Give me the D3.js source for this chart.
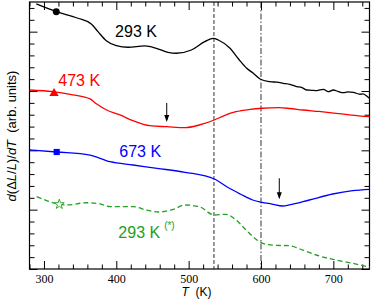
<!DOCTYPE html>
<html>
<head>
<meta charset="utf-8">
<script src="https://cdn.jsdelivr.net/npm/d3@7"></script>
<style>
  body { margin: 0; background: #fff; }
  svg { display: block; }
</style>
</head>
<body>
<div id="chart"></div>
<script>
// data: [T (K), d(dL/L)/dT in arb. units]
var curve293 = [[289.4,4.467],[317.0,4.337],[347.0,4.226],[365.4,4.129],[374.7,4.000],[386.2,3.848],
  [400.0,3.764],[416.2,3.737],[439.3,3.759],[455.3,3.720],[471.5,3.652],[482.9,3.636],[503.7,3.691],
  [522.2,3.831],[534.1,3.888],[541.0,3.860],[557.2,3.720],[569.0,3.540],[580.3,3.383],[589.4,3.298],
  [598.7,3.202],[612.5,3.157],[622.0,3.148],[630.9,3.130],[640.0,3.112],[649.4,3.073],[656.0,3.062],
  [663.2,3.017],[670.0,3.012],[677.0,3.005],[686.2,3.029],[693.1,2.988],[700.0,3.017],[706.0,2.995],
  [713.8,2.972],[720.0,2.985],[727.6,2.978],[736.9,2.945],[741.0,2.950],[746.1,2.916],[750.0,2.877]];
var curve473 = [[280.0,3.017],[312.5,2.988],[340.0,2.935],[363.6,2.866],[372.9,2.781],[386.7,2.680],
  [405.1,2.596],[423.1,2.500],[446.6,2.415],[470.1,2.398],[495.0,2.382],[514.7,2.427],[535.5,2.511],
  [550.0,2.590],[565.5,2.651],[585.0,2.690],[601.4,2.709],[624.9,2.719],[640.0,2.705],[657.7,2.680],
  [680.0,2.655],[703.7,2.624],[725.0,2.595],[750.0,2.567]];
var curve673 = [[280.0,2.006],[317.6,1.972],[363.6,1.921],[391.3,1.809],[423.1,1.753],[456.3,1.697],
  [495.0,1.630],[535.5,1.517],[556.2,1.360],[572.0,1.260],[588.6,1.163],[601.4,1.124],[615.0,1.095],
  [630.0,1.062],[639.1,1.079],[666.8,1.163],[699.1,1.264],[726.8,1.320],[750.0,1.343]];
var curve293b = [[290.0,1.219],[308.3,1.134],[321.2,1.090],[331.4,1.079],[359.1,1.117],[377.5,1.096],
  [391.3,1.050],[423.5,1.050],[442.0,0.994],[458.1,0.961],[478.8,1.006],[495.0,1.079],[514.7,1.050],
  [535.5,0.910],[551.6,0.922],[565.5,0.826],[579.3,0.657],[593.1,0.501],[606.9,0.416],[620.8,0.399],
  [639.1,0.393],[657.7,0.320],[680.6,0.219],[703.7,0.152],[726.8,0.096],[750.0,0.029]];

var seriesNames = ["293 K", "473 K", "673 K", "293 K"];
var markerPoints = [[317.0,4.337],[313.9,2.961],[317.6,1.972],[321.2,1.090]];
var labelPoints = [[398.3,3.915],[319.8,3.089],[404.1,1.893],[402.8,0.517]];
var arrows = [[469.7,2.798,2.478],[625.3,1.529,1.175]]; // [T, top, tip]
var guideLines = [535, 600];
var xMajor = [300, 400, 500, 600, 700];

var colors = ["#000000", "#ff0000", "#0000ff", "#22a022"];
var symbols = [d3.symbolCircle, d3.symbolTriangle, d3.symbolSquare, d3.symbolStar];

var W = 372, H = 300;
var plot = {left: 29.5, right: 369.5, top: 2, bottom: 269};

var x = d3.scaleLinear().domain([280, 750]).range([plot.left, plot.right]);
var y = d3.scaleLinear().domain([0, 4.5]).range([plot.bottom, plot.top]);

var svg = d3.select("#chart").append("svg")
  .attr("width", W)
  .attr("height", H);

var xMinor = d3.range(280, 751, 20).filter(function(d){ return d % 100 != 0; });
var yMajor = d3.range(0, 4.5, 1);
var yMinor = d3.range(0, 4.51, 0.2).filter(function(d){ return Math.abs(d - Math.round(d)) > 0.01; });

// inward ticks; sign of "dir" flips them for top/right axes
function axisGroup(axisFn, scale, ticks, size, tr, labels){
  var a = axisFn(scale).tickValues(ticks).tickSize(-size).tickSizeOuter(0);
  if(!labels) a.tickFormat("");
  var g = svg.append("g").attr("transform", tr).call(a);
  g.select(".domain").remove();
  g.selectAll("line").attr("stroke", "#000").attr("stroke-width", 1);
  return g;
}

// bottom / top
var bx = axisGroup(d3.axisBottom, x, xMajor, 8, "translate(0," + plot.bottom + ")", true);
bx.selectAll("text")
  .attr("font-family", "'Liberation Serif', 'Times New Roman', serif")
  .attr("font-size", 12).attr("fill", "#000").attr("y", 5);
axisGroup(d3.axisBottom, x, xMinor, 4.5, "translate(0," + plot.bottom + ")", false);
axisGroup(d3.axisTop, x, xMajor, 8, "translate(0," + plot.top + ")", false)
  .selectAll("line").attr("y2", 8);
axisGroup(d3.axisTop, x, xMinor, 4.5, "translate(0," + plot.top + ")", false)
  .selectAll("line").attr("y2", 4.5);
// left / right
axisGroup(d3.axisLeft, y, yMajor, 8, "translate(" + plot.left + ",0)", false)
  .selectAll("line").attr("x2", 8);
axisGroup(d3.axisLeft, y, yMinor, 5, "translate(" + plot.left + ",0)", false)
  .selectAll("line").attr("x2", 5);
axisGroup(d3.axisRight, y, yMajor, 8, "translate(" + plot.right + ",0)", false)
  .selectAll("line").attr("x2", -8);
axisGroup(d3.axisRight, y, yMinor, 5, "translate(" + plot.right + ",0)", false)
  .selectAll("line").attr("x2", -5);

// frame
svg.append("rect")
  .attr("x", plot.left).attr("y", plot.top)
  .attr("width", plot.right - plot.left).attr("height", plot.bottom - plot.top)
  .attr("fill", "none").attr("stroke", "#000").attr("stroke-width", 1.2);

// guide lines
svg.selectAll(".guide").data(guideLines).enter().append("line")
  .attr("class", "guide")
  .attr("x1", function(d){ return x(d); }).attr("x2", function(d){ return x(d); })
  .attr("y1", plot.top).attr("y2", plot.bottom)
  .attr("stroke", "#000").attr("stroke-width", 0.8)
  .attr("stroke-dasharray", function(d, i){ return i == 0 ? "4,2" : "6,2,1.5,2"; });

var line = d3.line()
  .x(function(d){ return x(d[0]); })
  .y(function(d){ return y(d[1]); })
  .curve(d3.curveMonotoneX);

var curves = [curve293, curve473, curve673, curve293b];
curves.forEach(function(c, i){
  svg.append("path")
    .datum(c)
    .attr("d", line)
    .attr("fill", "none")
    .attr("stroke", colors[i])
    .attr("stroke-width", 1.3)
    .attr("stroke-dasharray", i == 3 ? "5,3" : null);

  svg.append("path")
    .attr("d", d3.symbol().type(symbols[i]).size(i == 3 ? 30 : 38)())
    .attr("transform", "translate(" + x(markerPoints[i][0]) + "," + y(markerPoints[i][1]) + ")")
    .attr("fill", i == 3 ? "#fff" : colors[i])
    .attr("stroke", colors[i])
    .attr("stroke-width", i == 3 ? 0.9 : 0);

  var t = svg.append("text")
    .attr("x", x(labelPoints[i][0]))
    .attr("y", y(labelPoints[i][1]))
    .attr("font-family", "'Liberation Sans', Arial, sans-serif")
    .attr("font-size", 16)
    .attr("fill", colors[i])
    .text(seriesNames[i]);
  if(i == 3){
    t.append("tspan").attr("dx", 4).attr("dy", -9).attr("font-size", 10).text("(*)");
  }
});

// arrows
arrows.forEach(function(a){
  var ax = x(a[0]), y0 = y(a[1]), y1 = y(a[2]);
  svg.append("line")
    .attr("x1", ax).attr("x2", ax).attr("y1", y0).attr("y2", y1 - 2)
    .attr("stroke", "#000").attr("stroke-width", 1);
  svg.append("path")
    .attr("d", "M" + (ax - 2.5) + "," + (y1 - 7) + "L" + ax + "," + y1 + "L" + (ax + 2.5) + "," + (y1 - 7) + "Z")
    .attr("fill", "#000");
});

// axis titles
var xt = svg.append("text")
  .attr("x", 196.5).attr("y", 296)
  .attr("text-anchor", "middle")
  .attr("font-family", "'Liberation Sans', Arial, sans-serif")
  .attr("font-size", 12)
  .style("white-space", "pre");
xt.append("tspan").attr("font-style", "italic").text("T");
xt.append("tspan").text("  (K)");

var yt = svg.append("text")
  .attr("transform", "translate(15.5,136) rotate(-90)")
  .attr("text-anchor", "middle")
  .attr("font-family", "'Liberation Sans', Arial, sans-serif")
  .attr("font-size", 13)
  .style("white-space", "pre");
yt.append("tspan").attr("font-style", "italic").text("d");
yt.append("tspan").text("(Δ");
yt.append("tspan").attr("font-style", "italic").text("L");
yt.append("tspan").text("/");
yt.append("tspan").attr("font-style", "italic").text("L");
yt.append("tspan").text(")/");
yt.append("tspan").attr("font-style", "italic").text("dT");
yt.append("tspan").text("  (arb. units)");
</script>
</body>
</html>
